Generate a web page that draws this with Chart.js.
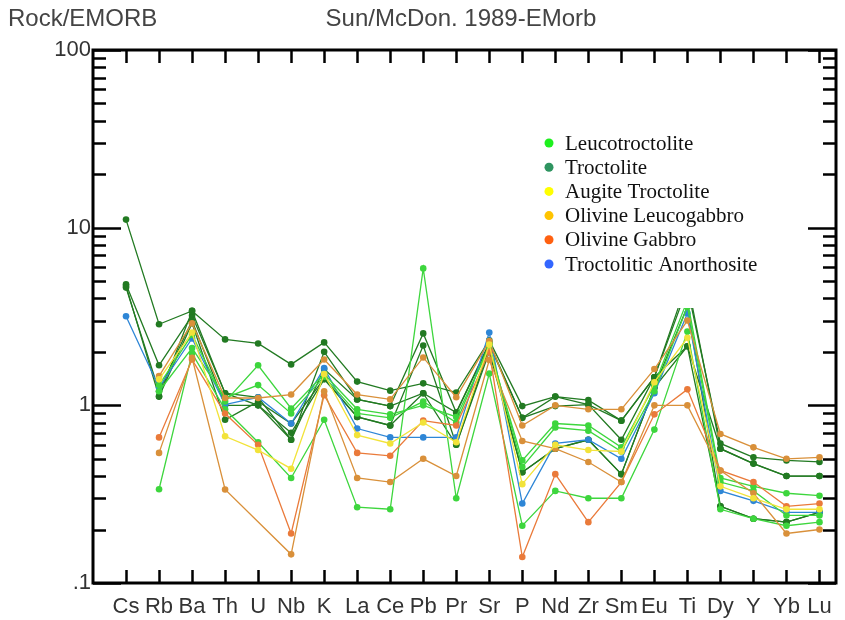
<!DOCTYPE html>
<html>
<head>
<meta charset="utf-8">
<script src="https://cdn.jsdelivr.net/npm/chart.js@4/dist/chart.umd.min.js"></script>
<style>
  html, body { margin: 0; padding: 0; background: #fff; }
  #wrap { width: 845px; height: 620px; }
</style>
</head>
<body>
<div id="wrap"><canvas id="chart" width="845" height="620"></canvas></div>
<script>
const elements = ["Cs","Rb","Ba","Th","U","Nb","K","La","Ce","Pb","Pr","Sr","P","Nd","Zr","Sm","Eu","Ti","Dy","Y","Yb","Lu"];

const yTickValues = [0.1, 1, 10, 100];
const yTickLabels = [".1", "1", "10", "100"];

// rock / E-MORB values, one row per sample
const leuco1 = [null, 0.337, 1.96, 0.95, 0.62, 0.39, 0.83, 0.267, 0.26, 5.9, 0.30, 1.51, 0.21, 0.33, 0.30, 0.30, 0.73, 2.6, 0.26, 0.23, 0.21, 0.22];
const leuco2 = [null, 1.30, 2.5, 1.05, 1.68, 0.96, 1.5, 0.95, 0.89, 1.0, 0.86, 2.1, 0.49, 0.79, 0.77, 0.58, 1.3, 3.9, 0.39, 0.35, 0.32, 0.31];
const leuco3 = [null, 1.2, 2.1, 1.1, 1.3, 0.9, 1.45, 0.9, 0.85, 1.05, 0.8, 2.2, 0.45, 0.75, 0.72, 0.55, 1.2, 3.6, 0.37, 0.33, 0.24, 0.24];

const troct1 = [11.1, 2.86, 3.4, 2.35, 2.23, 1.7, 2.26, 1.36, 1.21, 1.33, 1.18, 2.32, 0.99, 1.12, 1.07, 0.82, 1.44, 4.6, 0.61, 0.51, 0.49, 0.48];
const troct2 = [4.8, 1.68, 3.2, 1.17, 1.11, 0.64, 1.6, 1.08, 0.99, 2.54, 0.91, 2.2, 0.85, 0.99, 1.01, 0.64, 1.44, 2.15, 0.57, 0.47, 0.40, 0.40];
const troct3 = [4.7, 1.12, 2.9, 0.83, 1.05, 0.79, 1.42, 0.86, 0.77, 2.17, 0.6, 2.0, 0.42, 0.57, 0.64, 0.41, 1.26, 3.6, 0.27, 0.23, 0.22, 0.25];
const troct4 = [null, 1.12, 3.4, 1.17, 1.0, 0.64, 2.0, 1.08, 0.99, 1.17, 0.91, 2.25, 0.85, 1.12, 1.01, 0.82, 1.44, 5.0, 0.57, 0.47, 0.40, 0.40];
const troct5 = [4.6, 1.2, 3.0, 1.0, 1.0, 0.7, 1.4, 0.86, 0.77, 1.17, 0.6, 2.1, 0.42, 0.57, 0.64, 0.41, 1.26, 2.15, 0.27, 0.23, 0.22, 0.25];

const augite1 = [null, 1.4, 2.57, 0.67, 0.56, 0.44, 1.5, 0.68, 0.61, 0.8, 0.62, 2.2, 0.36, 0.6, 0.56, 0.55, 1.35, 2.4, 0.35, 0.30, 0.26, 0.26];

const olLeuco1 = [null, 1.46, 2.9, 1.1, 1.1, 1.15, 1.81, 1.15, 1.08, 1.86, 1.11, 2.3, 0.77, 1.0, 0.95, 0.95, 1.6, 3.0, 0.69, 0.58, 0.50, 0.51];
const olLeuco2 = [null, 0.54, 1.85, 0.336, null, 0.145, 1.2, 0.39, 0.37, 0.50, 0.40, 1.8, 0.63, 0.57, 0.48, 0.37, 1.0, 1.0, 0.43, 0.32, 0.19, 0.20];

const olGab1 = [null, 0.66, 1.81, 0.9, 0.6, 0.19, 1.14, 0.54, 0.52, 0.82, 0.77, 2.0, 0.14, 0.41, 0.22, 0.37, 0.89, 1.23, 0.43, 0.37, 0.27, 0.28];

const anorth1 = [3.17, 1.26, 2.38, 1.01, 1.11, 0.79, 1.62, 0.74, 0.66, 0.66, 0.66, 2.57, 0.28, 0.61, 0.64, 0.50, 1.17, 3.3, 0.33, 0.29, 0.25, 0.25];

const legendNames = ["Leucotroctolite", "Troctolite", "Augite Troctolite", "Olivine Leucogabbro", "Olivine Gabbro", "Troctolitic Anorthosite"];
const legendColors = ["#1ef01e", "#2e9460", "#ffff00", "#ffc400", "#ff6010", "#3366ff"];

const cLeuco = "#3dd63d";
const cTroct = "#227a22";
const cAug = "#f2e33a";
const cOlLeuco = "#d9903a";
const cOlGab = "#ea7a3a";
const cAnorth = "#2e86d6";

const series = [
    [augite1, cAug],
    [olLeuco2, cOlLeuco],
    [olGab1, cOlGab],
    [olLeuco1, cOlLeuco],
    [leuco1, cLeuco],
    [leuco3, cLeuco],
    [leuco2, cLeuco],
    [anorth1, cAnorth],
    [troct5, cTroct],
    [troct3, cTroct],
    [troct4, cTroct],
    [troct2, cTroct],
    [troct1, cTroct]
];

const datasets = series.map(([vals, color]) => ({
    data: vals.map((v, i) => ({ x: i, y: v })),
    borderColor: color,
    backgroundColor: color,
    borderWidth: 1.3,
    pointRadius: 3.3,
    pointBorderWidth: 0,
    pointHoverRadius: 3.3,
    spanGaps: true,
    tension: 0
}));

const frame = {
    id: "frame",
    afterDatasetsDraw(chart) {
        const ctx = chart.ctx;
        const a = chart.chartArea;
        const xs = chart.scales.x;
        const ys = chart.scales.y;

        // legend box over the lines
        ctx.save();
        ctx.fillStyle = "#fff";
        ctx.fillRect(535, 126, 262, 182);
        ctx.font = "21px 'Liberation Serif', 'DejaVu Serif', serif";
        ctx.textBaseline = "middle";
        ctx.textAlign = "left";
        legendNames.forEach((name, i) => {
            const y = 143 + i * 24.2;
            ctx.fillStyle = legendColors[i];
            ctx.beginPath();
            ctx.arc(549, y, 4.5, 0, Math.PI * 2);
            ctx.fill();
            ctx.fillStyle = "#111";
            ctx.fillText(name, 565, y + 1);
        });
        ctx.restore();

        // frame and inward ticks
        ctx.save();
        ctx.strokeStyle = "#000";
        ctx.lineWidth = 3;
        ctx.strokeRect(a.left, a.top, a.right - a.left, a.bottom - a.top);
        ctx.lineWidth = 2.5;
        ctx.beginPath();
        elements.forEach((el, i) => {
            const px = Math.round(xs.getPixelForValue(i)) + 0.5;
            ctx.moveTo(px, a.bottom);
            ctx.lineTo(px, a.bottom - 13);
            ctx.moveTo(px, a.top);
            ctx.lineTo(px, a.top + 13);
        });
        for (let d = 0.1; d < 100; d *= 10) {
            for (let m = 1; m <= 10; m++) {
                const v = d * m;
                const py = Math.round(ys.getPixelForValue(v)) + 0.5;
                const len = (m === 1 || m === 10) ? 28 : 13;
                ctx.moveTo(a.left, py);
                ctx.lineTo(a.left + len, py);
                ctx.moveTo(a.right, py);
                ctx.lineTo(a.right - len, py);
            }
        }
        ctx.stroke();
        ctx.restore();

        // header texts
        ctx.save();
        ctx.fillStyle = "#444";
        ctx.font = "24px 'Liberation Sans', Arial, sans-serif";
        ctx.textBaseline = "middle";
        ctx.textAlign = "left";
        ctx.fillText("Rock/EMORB", 8, 19);
        ctx.textAlign = "center";
        ctx.fillText("Sun/McDon. 1989-EMorb", 461, 19);
        ctx.restore();
    }
};

new Chart(document.getElementById("chart"), {
    type: "line",
    data: { datasets: datasets },
    options: {
        responsive: false,
        animation: false,
        layout: { padding: { top: 50, right: 9, left: 0, bottom: 0 } },
        plugins: {
            legend: { display: false },
            tooltip: { enabled: false }
        },
        scales: {
            x: {
                type: "linear",
                min: -1,
                max: 21.5,
                grid: { display: false, drawTicks: false },
                border: { display: false },
                afterBuildTicks: s => { s.ticks = elements.map((e, i) => ({ value: i })); },
                afterFit: s => { s.height = 37; },
                ticks: {
                    autoSkip: false,
                    maxRotation: 0,
                    padding: 11,
                    color: "#333",
                    font: { family: "'Liberation Sans', Arial, sans-serif", size: 22 },
                    callback: v => elements[v]
                }
            },
            y: {
                type: "logarithmic",
                min: 0.1,
                max: 100,
                grid: { display: false, drawTicks: false },
                border: { display: false },
                afterBuildTicks: s => { s.ticks = yTickValues.map(v => ({ value: v })); },
                afterFit: s => { s.width = 93; },
                ticks: {
                    padding: 2,
                    color: "#333",
                    font: { family: "'Liberation Sans', Arial, sans-serif", size: 22 },
                    callback: v => yTickLabels[yTickValues.indexOf(v)]
                }
            }
        }
    },
    plugins: [frame]
});
</script>
</body>
</html>
